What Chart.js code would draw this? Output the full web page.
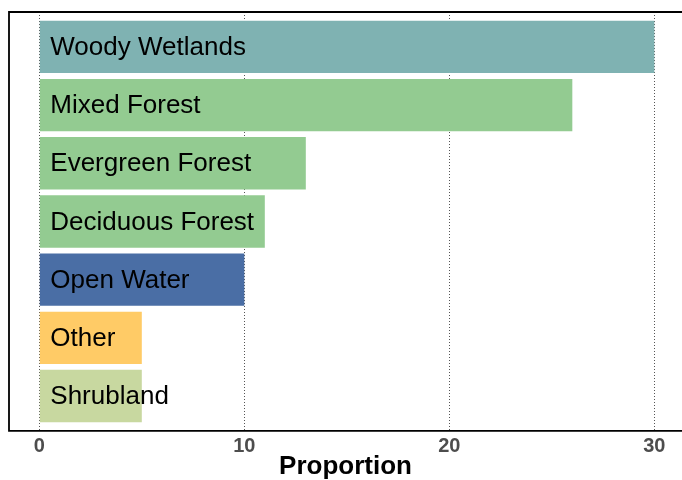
<!DOCTYPE html>
<html>
<head>
<meta charset="utf-8">
<script src="https://cdn.jsdelivr.net/npm/chart.js@4.4.1/dist/chart.umd.min.js"></script>
<style>
  html, body { margin: 0; padding: 0; background: #fff; }
  #wrap { width: 682px; height: 480px; }
</style>
</head>
<body>
<div id="wrap"><canvas id="c"></canvas></div>
<script>
// land cover categories, top to bottom
const categories = ["Woody Wetlands", "Mixed Forest", "Evergreen Forest", "Deciduous Forest", "Open Water", "Other", "Shrubland"];
const proportions = [30, 26, 13, 11, 10, 5, 5];
const barColors = ["#7fb2b2", "#93cb91", "#93cb91", "#93cb91", "#4a6ea5", "#ffcb66", "#c8d8a0"];
const xTicks = [0, 10, 20, 30];

const FONT = 'Arial, "Liberation Sans", sans-serif';

// box around plot (left, top, bottom) + labels inside bars
const boxAndLabels = {
  id: "boxAndLabels",
  afterDatasetsDraw(chart) {
    const ctx = chart.ctx;
    const a = chart.chartArea;
    const xs = chart.scales.x, ys = chart.scales.y;
    ctx.save();
    ctx.font = "26px " + FONT;
    ctx.fillStyle = "#000";
    ctx.textBaseline = "middle";
    ctx.textAlign = "left";
    categories.forEach((name, i) => {
      ctx.fillText(name, xs.getPixelForValue(0) + 11, ys.getPixelForValue(i + 1) + 1);
    });
    ctx.strokeStyle = "#000";
    ctx.lineWidth = 1.8;
    ctx.beginPath();
    ctx.moveTo(a.right + 5, a.top);
    ctx.lineTo(a.left, a.top);
    ctx.lineTo(a.left, a.bottom);
    ctx.lineTo(a.right + 5, a.bottom);
    ctx.stroke();
    ctx.restore();
  }
};

new Chart(document.getElementById("c"), {
  type: "bar",
  data: {
    datasets: [{
      data: proportions.map((v, i) => ({ x: v, y: i + 1 })),
      backgroundColor: barColors,
      borderWidth: 0,
      categoryPercentage: 1,
      barPercentage: 0.9
    }]
  },
  options: {
    indexAxis: "y",
    responsive: true,
    maintainAspectRatio: false,
    animation: false,
    layout: { padding: { left: 9, top: 12, right: 0, bottom: 3 } },
    plugins: { legend: { display: false }, tooltip: { enabled: false } },
    scales: {
      y: {
        type: "linear",
        display: false,
        reverse: true,
        offset: false,
        min: 0.4,
        max: 7.6,
        afterBuildTicks(scale) {
          scale.ticks = categories.map((c, i) => ({ value: i + 1 }));
        }
      },
      x: {
        type: "linear",
        min: -1.478,
        max: 31.35,
        afterBuildTicks(scale) {
          scale.ticks = xTicks.map(v => ({ value: v }));
        },
        border: { display: false, dash: [1, 2] },
        grid: {
          drawTicks: false,
          color: "#555",
          lineWidth: 1
        },
        ticks: {
          padding: 6,
          color: "#4d4d4d",
          font: { family: FONT, size: 20, weight: "bold", lineHeight: 1 }
        },
        title: {
          display: true,
          text: "Proportion",
          color: "#000",
          padding: { top: 0, bottom: 6 },
          font: { family: FONT, size: 26, weight: "bold", lineHeight: 0.31 }
        }
      }
    }
  },
  plugins: [boxAndLabels]
});
</script>
</body>
</html>
